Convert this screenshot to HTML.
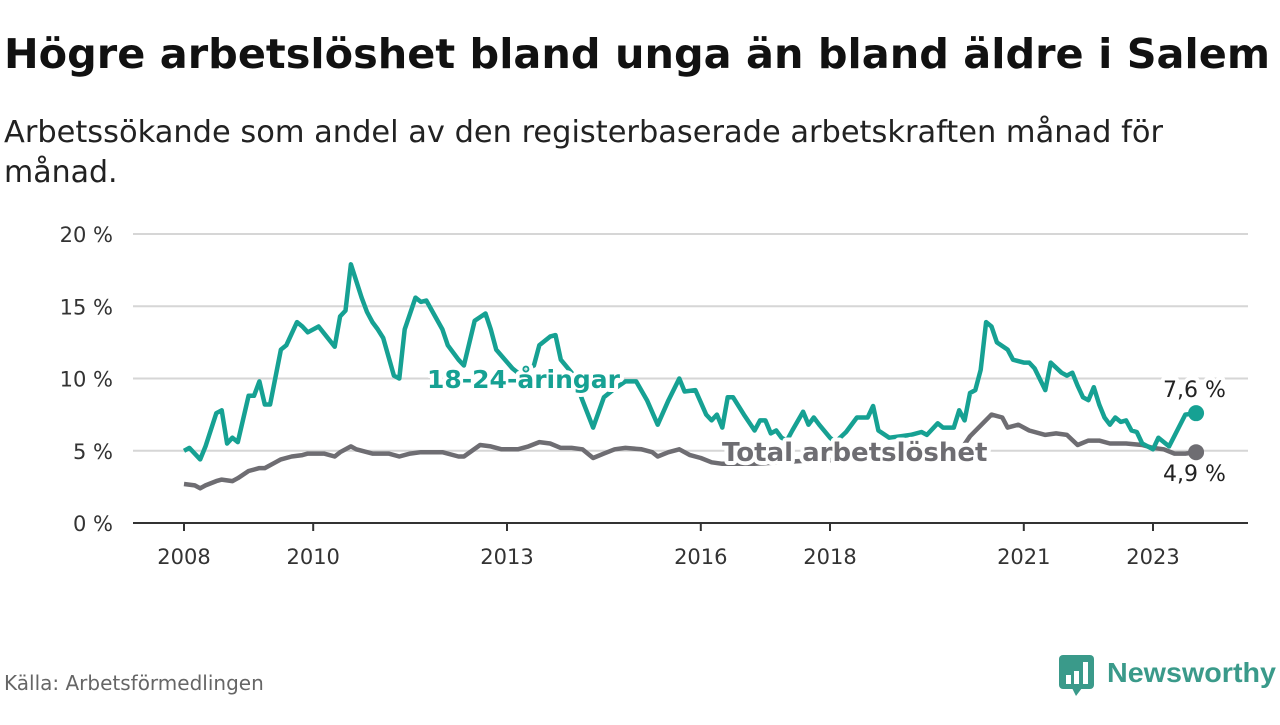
<!DOCTYPE html>
<html><head><meta charset="utf-8"><style>
body{margin:0;width:1280px;height:720px;background:#fff;font-family:"Liberation Sans",sans-serif;overflow:hidden}
svg text{font-family:"DejaVu Sans","Liberation Sans",sans-serif}
</style></head><body>
<svg width="1280" height="720">
<text x="4" y="68" font-size="41" font-weight="bold" fill="#111" textLength="1266" lengthAdjust="spacingAndGlyphs">Högre arbetslöshet bland unga än bland äldre i Salem</text>
<text x="4" y="142" font-size="30" fill="#222" textLength="1159" lengthAdjust="spacingAndGlyphs">Arbetssökande som andel av den registerbaserade arbetskraften månad för</text>
<text x="4" y="182" font-size="30" fill="#222">månad.</text>
<g id="grid"></g><g id="lines"></g><g id="labels"></g>
<text x="4" y="690" font-size="20" fill="#666">Källa: Arbetsförmedlingen</text>
<g>
<rect x="1059" y="655" width="35" height="34" rx="4" fill="#3a9a8a"/>
<polygon points="1072,688 1082,688 1076,696" fill="#3a9a8a"/>
<rect x="1066" y="675" width="5" height="9" fill="#fff"/><rect x="1074" y="671" width="5" height="13" fill="#fff"/><rect x="1083" y="662" width="5" height="22" fill="#fff"/>
<text x="1107" y="682" font-size="28" font-weight="bold" fill="#3a9a8a" textLength="169" lengthAdjust="spacingAndGlyphs" style="font-family:'Liberation Sans',sans-serif">Newsworthy</text>
</g>
</svg>
<script>
const yTicks=[0,5,10,15,20];
const xTickYears=[2008,2010,2013,2016,2018,2021,2023];
const youthMonths=[0,1,3,4,6,7,8,9,10,12,13,14,15,16,18,19,21,22,23,25,28,29,30,31,33,34,35,36,37,39,40,41,43,44,45,48,49,51,52,54,56,57,58,61,62,64,65,66,68,69,70,72,73,74,76,78,80,82,84,86,88,90,92,93,95,97,98,99,100,101,102,104,106,107,108,109,110,111,112,113,115,116,117,118,120,121,123,125,127,128,129,131,133,135,137,138,140,141,143,144,145,146,147,148,149,150,151,153,154,156,157,158,160,161,163,164,165,166,167,168,169,170,171,172,173,174,175,176,177,178,179,180,181,183,186,188];
const youthValues=[5.0,5.2,4.4,5.3,7.6,7.8,5.5,5.9,5.6,8.8,8.8,9.8,8.2,8.2,12.0,12.3,13.9,13.6,13.2,13.6,12.2,14.3,14.7,17.9,15.6,14.6,13.9,13.4,12.8,10.2,10.0,13.4,15.6,15.3,15.4,13.4,12.3,11.3,10.9,14.0,14.5,13.4,12.0,10.7,10.4,10.7,10.9,12.3,12.9,13.0,11.3,10.4,9.5,8.5,6.6,8.7,9.3,9.8,9.8,8.5,6.8,8.5,10.0,9.1,9.2,7.5,7.1,7.5,6.6,8.7,8.7,7.5,6.4,7.1,7.1,6.2,6.4,5.9,5.7,6.4,7.7,6.8,7.3,6.8,5.9,5.6,6.3,7.3,7.3,8.1,6.4,5.9,6.0,6.1,6.3,6.1,6.9,6.6,6.6,7.8,7.1,9.0,9.2,10.6,13.9,13.6,12.5,12.0,11.3,11.1,11.1,10.7,9.2,11.1,10.4,10.2,10.4,9.5,8.7,8.5,9.4,8.2,7.3,6.8,7.3,7.0,7.1,6.4,6.3,5.5,5.3,5.1,5.9,5.3,7.5,7.6];
const totalMonths=[0,2,3,4,6,7,9,10,12,14,15,17,18,20,22,23,26,28,29,31,32,35,36,38,40,42,44,48,51,52,55,57,59,61,62,64,66,68,70,72,74,76,78,80,82,85,87,88,90,92,94,96,98,100,106,115,125,135,144,146,150,152,153,155,157,160,162,164,166,168,170,172,175,178,180,182,184,186,188];
const totalValues=[2.7,2.6,2.4,2.6,2.9,3.0,2.9,3.1,3.6,3.8,3.8,4.2,4.4,4.6,4.7,4.8,4.8,4.6,4.9,5.3,5.1,4.8,4.8,4.8,4.6,4.8,4.9,4.9,4.6,4.6,5.4,5.3,5.1,5.1,5.1,5.3,5.6,5.5,5.2,5.2,5.1,4.5,4.8,5.1,5.2,5.1,4.9,4.6,4.9,5.1,4.7,4.5,4.2,4.1,4.1,4.3,4.4,4.5,4.9,6.0,7.5,7.3,6.6,6.8,6.4,6.1,6.2,6.1,5.4,5.7,5.7,5.5,5.5,5.4,5.2,5.1,4.8,4.8,4.9];
const NS='http://www.w3.org/2000/svg';
const X0=184,PXM=64.6/12,Y0=523,PYU=14.45;
const xm=m=>X0+m*PXM, xy=y=>X0+(y-2008)*64.6, yv=v=>Y0-v*PYU;
function mk(t,a,p){const e=document.createElementNS(NS,t);for(const k in a)e.setAttribute(k,a[k]);p.appendChild(e);return e;}
const grid=document.getElementById('grid');
yTicks.forEach(v=>{
 if(v>0){const l=mk('line',{x1:133,x2:1248,y1:yv(v),y2:yv(v),stroke:'#d6d6d6','stroke-width':2},grid);
 
 }
 const t=mk('text',{x:113,y:yv(v)+8,'font-size':21,'text-anchor':'end',fill:'#333'},grid);t.textContent=v+' %';
 
 
});
const ax=mk('line',{x1:133,x2:1248,y1:Y0,y2:Y0,stroke:'#333','stroke-width':2},grid);


xTickYears.forEach(y=>{
 mk('line',{x1:xy(y),x2:xy(y),y1:Y0,y2:Y0+8,stroke:'#333','stroke-width':2},grid);
 const t=mk('text',{x:xy(y),y:564,'font-size':21,'text-anchor':'middle',fill:'#333'},grid);t.textContent=y;
 
 
});
const lines=document.getElementById('lines');
function series(ms,vs,col,name){
 const d=ms.map((m,i)=>(i?'L':'M')+xm(m).toFixed(1)+','+yv(vs[i]).toFixed(1)).join('');
 const p=mk('path',{d:d,fill:'none',stroke:col,'stroke-width':4.5,'stroke-linejoin':'round'},lines);
 
 
 const n=ms.length-1;
 const c=mk('circle',{cx:xm(ms[n]),cy:yv(vs[n]),r:8,fill:col},lines);
 
 
}
series(totalMonths,totalValues,'#6e6d72','total-line');
series(youthMonths,youthValues,'#16a193','youth-line');
const lab=document.getElementById('labels');
function label(x,y,txt,col,size,bold,name){
 const t=mk('text',{x:x,y:y,'font-size':size,fill:col,'font-weight':bold?'bold':'normal',stroke:'#fff','stroke-width':8,'paint-order':'stroke','stroke-linejoin':'round'},lab);
 t.textContent=txt;
 
 
}
label(427,388,'18-24-åringar','#16a193',25,true,'youth-series-label');
label(722,461,'Total arbetslöshet','#6e6d72',26,true,'total-series-label');
label(1163,397,'7,6 %','#222',22,false,'youth-end-value');
label(1163,481,'4,9 %','#222',22,false,'total-end-value');
</script>
</body></html>
